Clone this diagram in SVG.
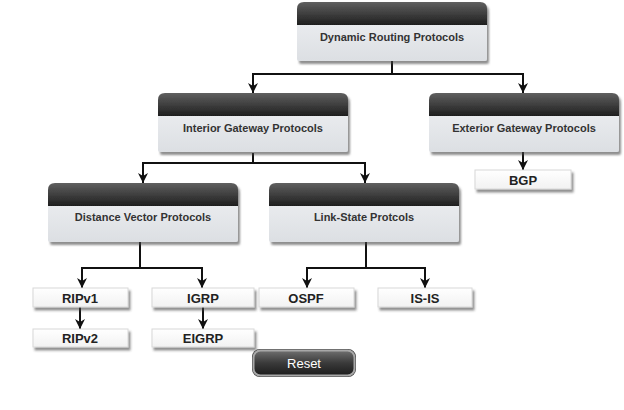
<svg xmlns="http://www.w3.org/2000/svg" xmlns:xlink="http://www.w3.org/1999/xlink" width="624" height="410" viewBox="0 0 624 410">
<style>
.hdr{font-family:"Liberation Sans",Arial,sans-serif;font-weight:bold;font-size:11px;fill:#333;text-anchor:middle}
.leaf{font-family:"Liberation Sans",Arial,sans-serif;font-weight:bold;font-size:13px;fill:#222;text-anchor:middle}
.btn{font-family:"Liberation Sans",Arial,sans-serif;font-size:13px;fill:#fff;text-anchor:middle}
.conn path{fill:none;stroke:#111;stroke-width:2}
.arr{marker-end:url(#ah)}
.lbox{fill:url(#leafg);stroke:#d8d8d8;stroke-width:1;filter:url(#sh)}
</style>
<defs>
<linearGradient id="hg" x1="0" y1="0" x2="0" y2="1">
<stop offset="0" stop-color="#606060"/>
<stop offset="1" stop-color="#1e1e1e"/>
</linearGradient>
<linearGradient id="bg" x1="0" y1="0" x2="0" y2="1">
<stop offset="0" stop-color="#e9ebee"/>
<stop offset="1" stop-color="#dcdfe3"/>
</linearGradient>
<linearGradient id="leafg" x1="0" y1="0" x2="0" y2="1">
<stop offset="0" stop-color="#ffffff"/>
<stop offset="1" stop-color="#f2f2f2"/>
</linearGradient>
<linearGradient id="btng" x1="0" y1="0" x2="0" y2="1">
<stop offset="0" stop-color="#707070"/>
<stop offset="0.5" stop-color="#3a3a3a"/>
<stop offset="1" stop-color="#1c1c1c"/>
</linearGradient>
<filter id="sh" x="-10%" y="-20%" width="130%" height="160%">
<feDropShadow dx="2" dy="3" stdDeviation="1.2" flood-color="#444" flood-opacity="0.6"/>
</filter>
<marker id="ah" markerUnits="userSpaceOnUse" markerWidth="10" markerHeight="12" refX="10" refY="5" orient="auto" viewBox="0 0 10 10">
<path d="M0,0 L10,5 L0,10 L3,5 Z" fill="#111"/>
</marker>
<g id="box">
<g filter="url(#sh)">
<path d="M0,22 H190 V57 Q190,59 188,59 H2 Q0,59 0,57 Z" fill="url(#bg)"/>
<path d="M0,23 V7 Q0,0 7,0 H183 Q190,0 190,7 V23 Z" fill="url(#hg)"/>
</g>
</g>
</defs>

<g class="conn">
<path class="arr" d="M392,60 V74 H253 V93"/>
<path class="arr" d="M392,74 H523 V93"/>
<path class="arr" d="M523,152 V170"/>
<path class="arr" d="M253,153 V163 H143 V183"/>
<path class="arr" d="M253,163 H365 V183"/>
<path class="arr" d="M140,242 V268 H82 V288"/>
<path class="arr" d="M140,268 H202 V288"/>
<path class="arr" d="M80,307 V329"/>
<path class="arr" d="M203,307 V329"/>
<path class="arr" d="M366,242 V268 H307 V288"/>
<path class="arr" d="M366,268 H425 V288"/>
</g>

<g id="dynamic">
<use xlink:href="#box" href="#box" x="297" y="2"/>
<text class="hdr" x="392" y="41">Dynamic Routing Protocols</text>
</g>
<g id="interior">
<use xlink:href="#box" href="#box" x="158" y="93"/>
<text class="hdr" x="253" y="132">Interior Gateway Protocols</text>
</g>
<g id="exterior">
<use xlink:href="#box" href="#box" x="429" y="93"/>
<text class="hdr" x="524" y="132">Exterior Gateway Protocols</text>
</g>
<g id="distance">
<use xlink:href="#box" href="#box" x="48" y="183"/>
<text class="hdr" x="143" y="221">Distance Vector Protocols</text>
</g>
<g id="linkstate">
<use xlink:href="#box" href="#box" x="269" y="183"/>
<text class="hdr" x="364" y="221">Link-State Protcols</text>
</g>

<g id="bgp">
<rect class="lbox" x="475" y="170" width="96" height="19"/>
<text class="leaf" x="523" y="184.5">BGP</text>
</g>
<g id="ripv1">
<rect class="lbox" x="33" y="288" width="95" height="19"/>
<text class="leaf" x="80" y="302.5">RIPv1</text>
</g>
<g id="ripv2">
<rect class="lbox" x="33" y="329" width="95" height="18"/>
<text class="leaf" x="80" y="343">RIPv2</text>
</g>
<g id="igrp">
<rect class="lbox" x="152" y="288" width="102" height="19"/>
<text class="leaf" x="203" y="302.5">IGRP</text>
</g>
<g id="eigrp">
<rect class="lbox" x="152" y="329" width="102" height="18"/>
<text class="leaf" x="203" y="343">EIGRP</text>
</g>
<g id="ospf">
<rect class="lbox" x="259" y="288" width="95" height="19"/>
<text class="leaf" x="306" y="302.5">OSPF</text>
</g>
<g id="isis">
<rect class="lbox" x="378" y="288" width="94" height="19"/>
<text class="leaf" x="425" y="302.5">IS-IS</text>
</g>

<g id="reset">
<rect x="252" y="349" width="104" height="28" rx="8" fill="#3a3a3a"/>
<rect x="253.5" y="350.5" width="101" height="25" rx="7" fill="url(#btng)" stroke="#a8a8a8" stroke-width="2"/>
<text class="btn" x="304" y="367.5">Reset</text>
</g>
</svg>
